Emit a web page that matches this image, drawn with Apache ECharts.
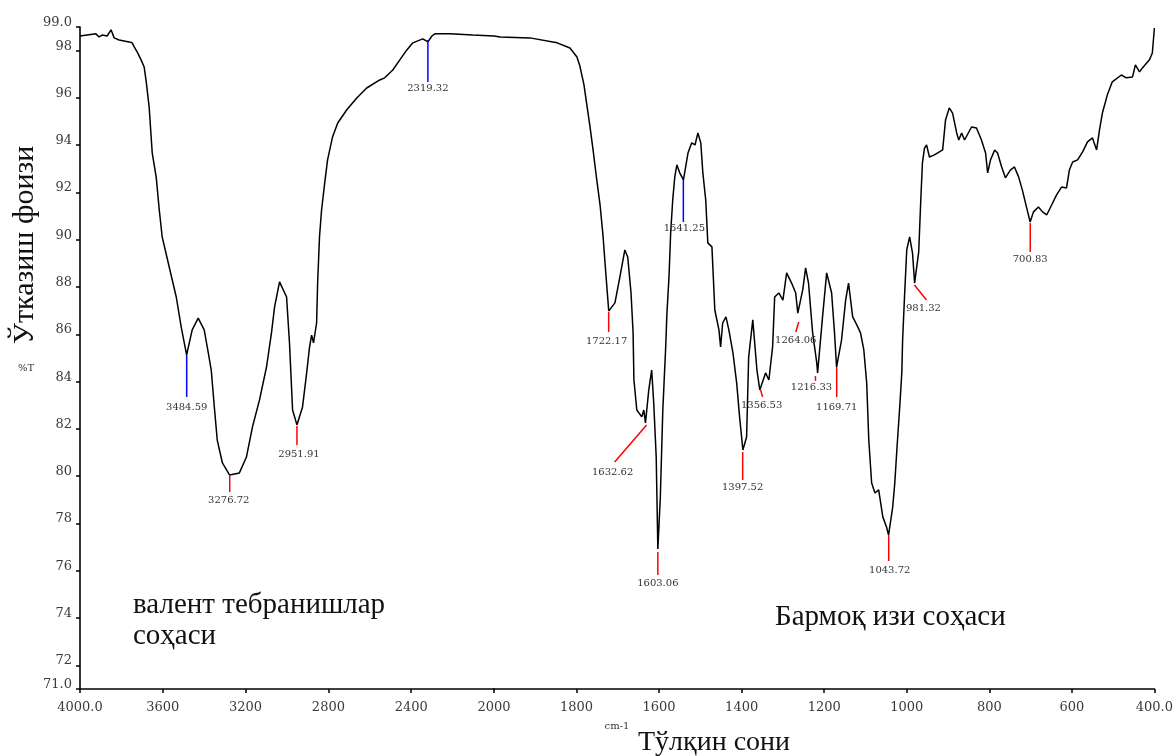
<!DOCTYPE html>
<html>
<head>
<meta charset="utf-8">
<title>ИК спектр</title>
<script src="https://cdn.jsdelivr.net/npm/echarts@6/dist/echarts.min.js"></script>
<style>
html, body { margin: 0; padding: 0; background: #fff; }
#spectrum { width: 1176px; height: 756px; }
</style>
</head>
<body>
<div id="spectrum"></div>
<script>
// spectrum (cm-1 from 4000 down to 400, %T)
var waveNum = [
    4000, 3923, 3908, 3893, 3869, 3850, 3835, 3811, 3787, 3763, 3748, 3738, 3724, 3705, 3690,
    3680, 3666, 3651, 3632, 3617, 3603, 3569, 3535, 3511, 3485, 3458, 3429, 3400, 3380, 3366,
    3351, 3337, 3312, 3277, 3230, 3196, 3167, 3133, 3099, 3075, 3060, 3036, 3002, 2988, 2973,
    2952, 2925, 2905, 2891, 2881, 2872, 2857, 2852, 2843, 2833, 2818, 2804, 2780, 2755, 2712,
    2663, 2615, 2552, 2528, 2489, 2455, 2421, 2392, 2344, 2319, 2300, 2286, 2213, 2102, 2000,
    1985, 1913, 1847, 1816, 1799, 1792, 1782, 1775, 1768, 1760,
    1751, 1743, 1736, 1731, 1726, 1722, 1707, 1695, 1683, 1676,
    1668, 1663, 1661, 1654, 1642, 1637, 1633, 1625, 1618, 1613,
    1607, 1603, 1597, 1591, 1584, 1581, 1576, 1572, 1567, 1562,
    1557, 1550, 1541, 1530, 1521, 1513, 1506, 1499, 1494, 1487,
    1482, 1472, 1465, 1455, 1451, 1446, 1438, 1431, 1421, 1412,
    1405, 1397, 1388, 1383, 1373, 1363, 1356, 1342, 1334, 1325,
    1320, 1310, 1300, 1291, 1279, 1269, 1264, 1252, 1245, 1238,
    1228, 1218, 1216, 1204, 1194, 1182, 1175, 1170, 1158, 1148,
    1141, 1131, 1121, 1112, 1104, 1097, 1092, 1085, 1077, 1068,
    1058, 1049, 1044, 1034, 1029, 1024, 1017, 1012, 1010, 1005,
    1000, 993, 986, 981, 971, 966, 962, 957, 952, 945,
    933, 921, 913, 906, 897, 889, 879, 874, 867, 860,
    843, 831, 819, 809, 804, 797, 787, 780, 770, 761,
    749, 739, 729, 720, 710, 701, 693, 681, 671, 661,
    649, 637, 625, 613, 606, 598, 586, 574, 562, 550,
    540, 533, 526, 514, 502, 480, 468, 453, 446, 436,
    429, 412, 405, 400
];
var transm = [
    98.62, 98.71, 98.58, 98.66, 98.62, 98.88, 98.54, 98.45, 98.41, 98.37, 98.33, 98.16, 97.95, 97.61, 97.31,
    96.68, 95.62, 93.67, 92.66, 91.26, 90.12, 88.85, 87.58, 86.31, 85.13, 86.19, 86.69, 86.19, 85.21, 84.49,
    82.93, 81.53, 80.56, 80.05, 80.14, 80.81, 82.08, 83.22, 84.62, 86.06, 87.16, 88.22, 87.58, 85.64, 82.80,
    82.17, 82.93, 84.37, 85.47, 85.97, 85.64, 86.48, 88.17, 90.12, 91.26, 92.40, 93.38, 94.35, 94.94, 95.49,
    96.00, 96.42, 96.76, 96.85, 97.18, 97.61, 98.03, 98.33, 98.50, 98.37, 98.62, 98.71, 98.71, 98.66, 98.62,
    98.58, 98.54, 98.33, 98.11, 97.73, 97.35, 96.55, 95.70, 94.86, 93.80,
    92.53, 91.47, 90.20, 89.02, 87.88, 86.99, 87.33, 88.43, 89.57, 89.27,
    87.75, 86.06, 84.07, 82.80, 82.51, 82.80, 82.25, 83.65, 84.49, 83.10,
    80.81, 76.92, 79.12, 82.80, 85.47, 86.90, 88.43, 90.29, 91.68, 92.66,
    93.17, 92.83, 92.53, 93.67, 94.10, 94.01, 94.52, 94.10, 92.83, 91.68,
    89.87, 89.70, 87.03, 86.19, 85.47, 86.48, 86.74, 86.19, 85.21, 83.94,
    82.51, 81.11, 81.66, 85.04, 86.61, 84.49, 83.65, 84.37, 84.07, 85.47,
    87.58, 87.75, 87.45, 88.60, 88.17, 87.75, 86.90, 87.88, 88.81, 88.17,
    86.06, 84.79, 84.37, 86.74, 88.60, 87.75, 86.06, 84.62, 85.76, 87.45,
    88.17, 86.74, 86.40, 86.06, 85.34, 83.94, 81.53, 79.71, 79.29, 79.42,
    78.28, 77.85, 77.51, 78.70, 79.71, 81.11, 82.93, 84.37, 85.76, 87.75,
    89.57, 90.12, 89.44, 88.17, 89.49, 91.68, 93.25, 93.88, 94.01, 93.50,
    93.59, 93.72, 93.80, 95.07, 95.58, 95.36, 94.52, 94.22, 94.52, 94.22,
    94.77, 94.73, 94.22, 93.67, 92.83, 93.38, 93.80, 93.67, 93.08, 92.62,
    92.95, 93.08, 92.66, 92.11, 91.39, 90.75, 91.18, 91.39, 91.18, 91.05,
    91.47, 91.90, 92.23, 92.19, 92.95, 93.29, 93.38, 93.72, 94.14, 94.31,
    93.80, 94.65, 95.36, 96.13, 96.68, 96.97, 96.85, 96.89, 97.40, 97.10,
    97.27, 97.61, 97.90, 98.96
];

// picked peaks
var peakWn = [3484.59, 3276.72, 2951.91, 2319.32, 1722.17, 1632.62, 1603.06, 1541.25,
              1397.52, 1356.53, 1264.06, 1216.33, 1169.71, 1043.72, 981.32, 700.83];
var peakT = [85.13, 80.05, 82.17, 98.37, 86.99, 82.25, 76.92, 92.53,
             81.11, 83.65, 86.90, 84.37, 84.62, 77.51, 88.17, 90.75];
var peakLabels = ['3484.59', '3276.72', '2951.91', '2319.32', '1722.17', '1632.62', '1603.06', '1541.25',
                  '1397.52', '1356.53', '1264.06', '1216.33', '1169.71', '1043.72', '981.32', '700.83'];

var yTickValues = [71, 72, 74, 76, 78, 80, 82, 84, 86, 88, 90, 92, 94, 96, 98, 99];

// marker look: colour, line (x1,y1,x2,y2) and label centre, in px from the peak point
var markStyle = {
    '3484.59': {c: '#0000ff', l: [0, 0, 0, 42], t: [0, 52]},
    '3276.72': {c: '#ff0000', l: [0, 1, 0, 17], t: [-1, 25]},
    '2951.91': {c: '#ff0000', l: [0, 1, 0, 20], t: [2, 29]},
    '2319.32': {c: '#0000ff', l: [0, -2, 0, 40], t: [0, 47]},
    '1722.17': {c: '#ff0000', l: [0, 1, 0, 21], t: [-2, 30]},
    '1632.62': {c: '#ff0000', l: [1, 2, -31, 39], t: [-33, 49]},
    '1603.06': {c: '#ff0000', l: [0, 3, 0, 26], t: [0, 34]},
    '1541.25': {c: '#0000ff', l: [0, 0, 0, 42], t: [1, 48]},
    '1397.52': {c: '#ff0000', l: [0, 2, 0, 30], t: [0, 37]},
    '1356.53': {c: '#ff0000', l: [1, 0, 3, 7], t: [2, 15]},
    '1264.06': {c: '#ff0000', l: [1, 9, -2, 19], t: [-2, 27]},
    '1216.33': {c: '#ff0000', l: [-2, 3, -2, 8], t: [-6, 15]},
    '1169.71': {c: '#ff0000', l: [0, 0, 0, 30], t: [0, 40]},
    '1043.72': {c: '#ff0000', l: [0, 0, 0, 26], t: [1, 35]},
    '981.32': {c: '#ff0000', l: [0, 2, 12, 17], t: [9, 25]},
    '700.83': {c: '#ff0000', l: [0, 1, 0, 30], t: [0, 37]}
};

// the wavenumber scale changes at 2000 cm-1, so two grids side by side
var highPart = [], lowPart = [];
for (var i = 0; i < waveNum.length; i++) {
    if (waveNum[i] >= 2000) highPart.push([waveNum[i], transm[i]]);
    if (waveNum[i] <= 2000) lowPart.push([waveNum[i], transm[i]]);
}
var highPeaks = [], lowPeaks = [];
for (var j = 0; j < peakWn.length; j++) {
    if (peakWn[j] >= 2000) highPeaks.push([peakWn[j], peakT[j], j]);
    else lowPeaks.push([peakWn[j], peakT[j], j]);
}

function drawPeak(params, api) {
    var k = api.value(2);
    var p = api.coord([api.value(0), api.value(1)]);
    var s = markStyle[peakLabels[k]];
    return {
        type: 'group',
        children: [
            {
                type: 'line',
                shape: {x1: p[0] + s.l[0], y1: p[1] + s.l[1], x2: p[0] + s.l[2], y2: p[1] + s.l[3]},
                style: {stroke: s.c, lineWidth: 1.5}
            },
            {
                type: 'text',
                x: p[0] + s.t[0],
                y: p[1] + s.t[1],
                style: {
                    text: peakLabels[k],
                    font: '10px "DejaVu Serif"',
                    fill: '#333',
                    align: 'center',
                    verticalAlign: 'middle'
                }
            }
        ]
    };
}

var axisFont = {fontFamily: 'DejaVu Serif', fontSize: 13, color: '#3a3a3a'};
var blackLine = {show: true, lineStyle: {color: '#000', width: 1.6}};

var chart = echarts.init(document.getElementById('spectrum'));
var option = {
    animation: false,
    backgroundColor: '#fff',
    grid: [
        {left: 80, width: 414, top: 27, bottom: 67},
        {left: 494, right: 21, top: 27, bottom: 67}
    ],
    xAxis: [
        {
            gridIndex: 0, type: 'value', min: 2000, max: 4000, interval: 400, inverse: true,
            axisLine: blackLine,
            axisTick: {show: true, length: 4, lineStyle: {color: '#000', width: 1.5}},
            axisLabel: Object.assign({
                margin: 12,
                formatter: function (v) {
                    if (v === 4000) return '4000.0';
                    if (v === 2000) return '';
                    return String(v);
                }
            }, axisFont),
            splitLine: {show: false}
        },
        {
            gridIndex: 1, type: 'value', min: 400, max: 2000, interval: 200, inverse: true,
            axisLine: blackLine,
            axisTick: {show: true, length: 4, lineStyle: {color: '#000', width: 1.5}},
            axisLabel: Object.assign({
                margin: 12,
                formatter: function (v) {
                    return v === 400 ? '400.0' : String(v);
                }
            }, axisFont),
            splitLine: {show: false}
        }
    ],
    yAxis: [
        {
            gridIndex: 0, type: 'value', min: 71, max: 99, interval: 1,
            axisLine: blackLine,
            axisTick: {show: true, length: 4, customValues: yTickValues, lineStyle: {color: '#000', width: 1.5}},
            axisLabel: Object.assign({
                margin: 8,
                verticalAlign: 'bottom',
                lineHeight: 9,
                customValues: yTickValues,
                formatter: function (v) {
                    if (v === 71 || v === 99) return v.toFixed(1);
                    return String(v);
                }
            }, axisFont),
            splitLine: {show: false}
        },
        {
            gridIndex: 1, type: 'value', min: 71, max: 99, show: false,
            splitLine: {show: false}
        }
    ],
    series: [
        {
            type: 'line', xAxisIndex: 0, yAxisIndex: 0, data: highPart,
            showSymbol: false, symbol: 'none',
            lineStyle: {color: '#000', width: 1.5}
        },
        {
            type: 'line', xAxisIndex: 1, yAxisIndex: 1, data: lowPart,
            showSymbol: false, symbol: 'none',
            lineStyle: {color: '#000', width: 1.5}
        },
        {
            type: 'custom', xAxisIndex: 0, yAxisIndex: 0, data: highPeaks,
            encode: {x: 0, y: 1}, renderItem: drawPeak, clip: false, silent: true, z: 5
        },
        {
            type: 'custom', xAxisIndex: 1, yAxisIndex: 1, data: lowPeaks,
            encode: {x: 0, y: 1}, renderItem: drawPeak, clip: false, silent: true, z: 5
        }
    ],
    graphic: [
        {
            type: 'text', x: 25, y: 245, rotation: Math.PI / 2,
            style: {text: 'Ўтказиш фоизи', font: '30px "Liberation Serif"', fill: '#111',
                    align: 'center', verticalAlign: 'middle'}
        },
        {
            type: 'text', x: 26, y: 368,
            style: {text: '%T', font: '10px "DejaVu Serif"', fill: '#333',
                    align: 'center', verticalAlign: 'middle'}
        },
        {
            type: 'text', x: 617, y: 726,
            style: {text: 'cm-1', font: '10px "DejaVu Serif"', fill: '#333',
                    align: 'center', verticalAlign: 'middle'}
        },
        {
            type: 'text', x: 714, y: 743,
            style: {text: 'Тўлқин сони', font: '28px "Liberation Serif"', fill: '#111',
                    align: 'center', verticalAlign: 'middle'}
        },
        {
            type: 'text', x: 133, y: 605,
            style: {text: 'валент тебранишлар', font: '29px "Liberation Serif"', fill: '#111',
                    align: 'left', verticalAlign: 'middle'}
        },
        {
            type: 'text', x: 133, y: 636,
            style: {text: 'соҳаси', font: '29px "Liberation Serif"', fill: '#111',
                    align: 'left', verticalAlign: 'middle'}
        },
        {
            type: 'text', x: 775, y: 617,
            style: {text: 'Бармоқ изи соҳаси', font: '29px "Liberation Serif"', fill: '#111',
                    align: 'left', verticalAlign: 'middle'}
        }
    ]
};
chart.setOption(option);
</script>
</body>
</html>
